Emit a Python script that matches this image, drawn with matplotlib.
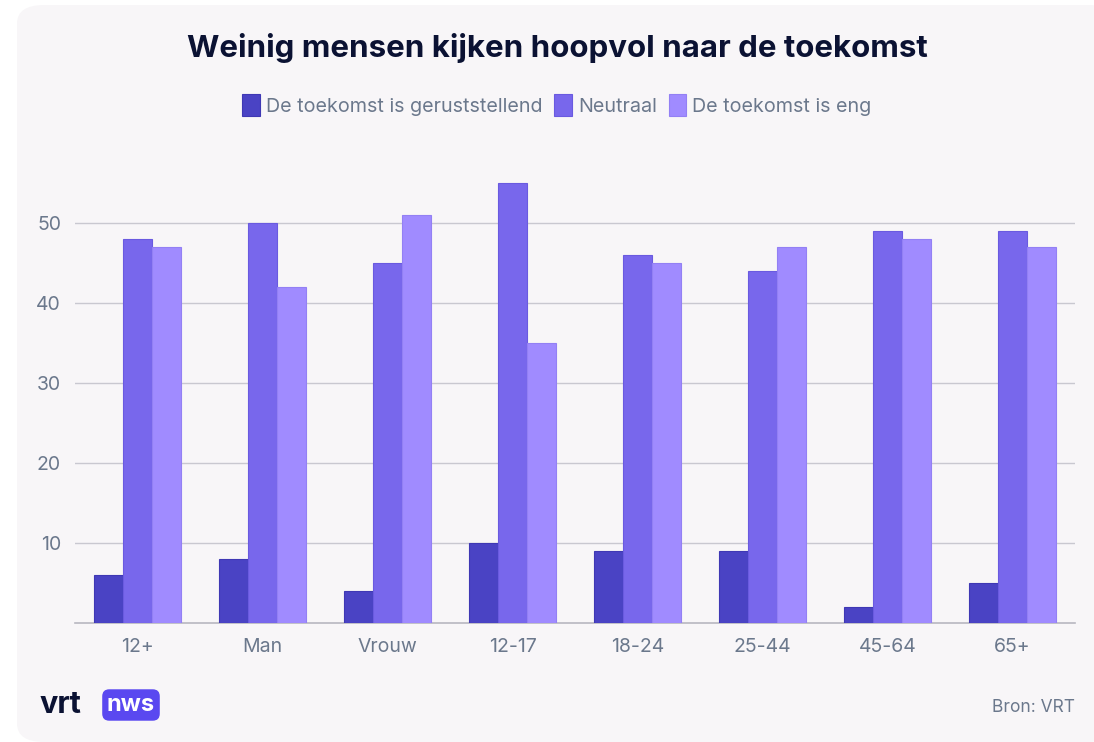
import matplotlib.pyplot as plt
import numpy as np
from matplotlib.patches import FancyBboxPatch

# data
groups = ['12+', 'Man', 'Vrouw', '12-17', '18-24', '25-44', '45-64', '65+']
geruststellend = [6, 8, 4, 10, 9, 9, 2, 5]
neutraal = [48, 50, 45, 55, 46, 44, 49, 49]
eng = [47, 42, 51, 35, 45, 47, 48, 47]
series_names = ['De toekomst is geruststellend', 'Neutraal', 'De toekomst is eng']
colors = ['#4a43c4', '#7867ec', '#a08bff']
edges = ['#3f38b4', '#6a5ae0', '#9380f4']

plt.rcParams['font.family'] = ['Inter', 'DejaVu Sans']

fig = plt.figure(figsize=(10.94, 7.42), dpi=100)
fig.patch.set_facecolor('white')

# card background
card = FancyBboxPatch((17 / 1094, 0.0), (1094 - 17) / 1094 + 0.02, 737 / 742,
                      boxstyle='round,pad=0,rounding_size=0.025',
                      transform=fig.transFigure, facecolor='#f8f6f8',
                      edgecolor='none', zorder=-10)
fig.patches.append(card)

ax = fig.add_axes([75 / 1094, 119 / 742, 1000 / 1094, 464 / 742])
ax.set_facecolor('none')

x = np.arange(len(groups))
w = 0.232
for i, (vals, name) in enumerate(zip([geruststellend, neutraal, eng], series_names)):
    ax.bar(x + (i - 1) * w, vals, w, color=colors[i], edgecolor=edges[i],
           linewidth=0.8, label=name, zorder=3)

ax.set_xlim(-0.5, len(groups) - 0.5)
ax.set_ylim(0, 58)
ax.set_yticks([10, 20, 30, 40, 50])
ax.set_xticks(x)
ax.set_xticklabels(groups)
ax.grid(axis='y', color='#c9c8d0', linewidth=1, zorder=0)
for s in ['top', 'right', 'left']:
    ax.spines[s].set_visible(False)
ax.spines['bottom'].set_color('#b8b7c0')
ax.spines['bottom'].set_linewidth(1.2)
ax.tick_params(axis='both', length=0, labelsize=14, colors='#6b788c')
ax.tick_params(axis='x', pad=11)
ax.tick_params(axis='y', pad=10)

cx = 557 / 1094
fig.text(cx, 1 - 48 / 742, 'Weinig mensen kijken hoopvol naar de toekomst',
         ha='center', va='center', fontsize=22.5, fontweight='bold', color='#0b1233')

leg = fig.legend(loc='center', bbox_to_anchor=(cx, 1 - 105 / 742), ncol=3,
                 frameon=False, fontsize=14.2, handlelength=0.9, handleheight=1.3,
                 handletextpad=0.3, columnspacing=0.6)
for t in leg.get_texts():
    t.set_color('#6b788c')

# footer
fig.text(40 / 1094, 1 - 705 / 742, 'vrt', ha='left', va='center', fontsize=22,
         fontweight='bold', color='#0b1233')
fig.text(131 / 1094, 1 - 705 / 742, 'nws', ha='center', va='center', fontsize=17,
         fontweight='bold', color='white',
         bbox=dict(boxstyle='round,pad=0.2,rounding_size=0.3', fc='#5a48f0', ec='none'))
fig.text(1075 / 1094, 1 - 708 / 742, 'Bron: VRT', ha='right', va='center',
         fontsize=12.5, color='#6b788c')

fig.savefig('out.png', dpi=100)
